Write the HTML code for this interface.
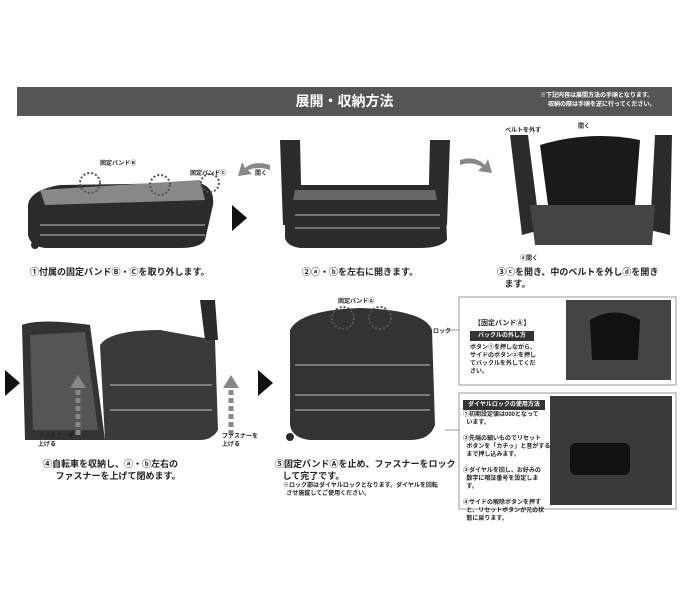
<!DOCTYPE html>
<html><head><meta charset="utf-8"><style>
body{margin:0;width:690px;height:600px;background:#fff;position:relative;overflow:hidden;font-family:"Liberation Sans","Noto Sans CJK JP",sans-serif;color:#222}
.a{position:absolute}
.t{position:absolute;font-size:9px;font-weight:bold;white-space:nowrap;line-height:12px}
.s{position:absolute;font-size:6px;font-weight:bold;white-space:nowrap;line-height:8px}
.tri{position:absolute;width:0;height:0;border-top:13px solid transparent;border-bottom:13px solid transparent;border-left:15px solid #111}
</style></head><body>
<div class="a" style="left:17px;top:87px;width:655px;height:29px;background:#555"></div>
<div class="a" style="left:17px;top:87px;width:655px;height:29px;color:#fff;text-align:center;font-size:14px;font-weight:bold;line-height:29px">展開・収納方法</div>
<div class="s" style="left:540px;top:92px;color:#fff">※下記内容は展開方法の手順となります。</div>
<div class="s" style="left:548px;top:101px;color:#fff">収納の際は手順を逆に行ってください。</div>

<svg class="a" style="left:0;top:0" width="690" height="600">
<g fill="#2b2b2b">
<path d="M28 205 Q30 190 60 185 L200 183 Q215 188 213 205 L205 240 Q200 248 180 248 L45 248 Q30 246 28 235Z"/>
<path d="M40 190 L200 180 L205 200 L45 205Z" fill="#888"/>
<circle cx="35" cy="245" r="4"/>
<path d="M280 140 L300 140 L302 225 L283 225Z"/>
<path d="M430 140 L450 140 L447 225 L428 225Z"/>
<path d="M285 185 L445 185 L447 240 Q440 248 420 248 L300 248 Q287 246 285 238Z"/>
<path d="M295 190 L435 190 L437 200 L293 200Z" fill="#666"/>
<path d="M510 135 L528 135 L540 230 L522 235Z"/>
<path d="M540 145 Q590 130 640 140 L635 205 L548 205Z" fill="#1a1a1a"/>
<path d="M655 135 L672 135 L670 235 L650 230Z"/>
<path d="M530 205 L655 205 L652 245 L535 245Z" fill="#444"/>
<path d="M22 325 Q40 318 90 325 L105 440 L25 440Z" fill="#333"/>
<path d="M30 335 L85 332 L98 430 L33 430Z" fill="#555"/>
<path d="M100 345 Q110 330 160 330 L215 340 L218 430 Q212 440 200 440 L105 440 Z" fill="#3a3a3a"/>
<path d="M200 300 L215 300 L218 340 L205 340Z"/>
<path d="M290 330 Q300 310 360 308 Q425 310 432 330 L435 425 Q430 440 410 440 L310 440 Q292 438 290 425Z" fill="#333"/>
<circle cx="290" cy="437" r="4"/>
<rect x="566" y="300" width="105" height="80" fill="#444"/>
<path d="M590 320 Q615 305 640 320 L638 360 L592 360Z" fill="#111"/>
<rect x="550" y="396" width="122" height="109" fill="#3a3a3a"/>
<rect x="570" y="443" width="60" height="32" rx="6" fill="#111"/>
</g>
<g stroke="#fff" stroke-width="1" fill="none" opacity="0.7">
<path d="M40 225 L205 225 M40 235 L205 235"/>
<path d="M295 215 L440 215 M295 228 L440 228"/>
<path d="M295 365 L430 365 M295 395 L430 395 M295 410 L430 410"/>
<path d="M110 385 L212 385 M110 410 L212 410"/>
</g>
<g stroke="#555" stroke-width="2" stroke-dasharray="2,2" fill="none">
<circle cx="90" cy="183" r="10"/><circle cx="160" cy="185" r="10"/><circle cx="210" cy="183" r="9"/>
<circle cx="343" cy="318" r="11"/><circle cx="380" cy="318" r="11"/>
</g>
<g stroke="#888" stroke-width="5" stroke-dasharray="5,3" fill="none">
<path d="M78 435 L78 385"/><path d="M231 435 L231 385"/>
</g>
<g fill="#888"><path d="M70 388 L86 388 L78 375Z"/><path d="M223 388 L239 388 L231 375Z"/>
<path d="M270 165 Q255 160 245 168 L242 162 L238 176 L252 174 L248 170 Q258 166 270 170Z"/>
<path d="M460 160 Q475 155 485 165 L488 159 L492 173 L478 171 L482 167 Q472 161 460 165Z"/></g>
<rect x="459" y="297" width="217" height="88" fill="none" stroke="#999"/>
<rect x="459" y="393" width="217" height="116" fill="none" stroke="#999"/>
<path d="M445 330 L459 330 M445 430 L459 430" stroke="#999"/>
</svg>
<div class="tri" style="left:232px;top:205px"></div>
<div class="tri" style="left:258px;top:370px"></div>
<div class="tri" style="left:5px;top:370px"></div>

<div class="s" style="left:100px;top:160px">固定バンドⒷ</div>
<div class="s" style="left:190px;top:170px">固定バンドⒸ</div>
<div class="s" style="left:255px;top:170px">開く</div>
<div class="s" style="left:505px;top:127px">ベルトを外す</div>
<div class="s" style="left:578px;top:123px">開く</div>
<div class="s" style="left:520px;top:255px">ⓓ開く</div>
<div class="s" style="left:338px;top:298px">固定バンドⒶ</div>
<div class="s" style="left:433px;top:328px">ロック</div>
<div class="s" style="left:38px;top:433px">ファスナーを<br>上げる</div>
<div class="s" style="left:222px;top:433px">ファスナーを<br>上げる</div>

<div class="t" style="left:30px;top:266px">①付属の固定バンドⒷ・Ⓒを取り外します。</div>
<div class="t" style="left:302px;top:266px">②ⓐ・ⓑを左右に開きます。</div>
<div class="t" style="left:497px;top:266px">③ⓒを開き、中のベルトを外しⓓを開き<br>&nbsp;&nbsp;&nbsp;ます。</div>
<div class="t" style="left:43px;top:458px">④自転車を収納し、ⓐ・ⓑ左右の<br>&nbsp;&nbsp;&nbsp;&nbsp;&nbsp;ファスナーを上げて閉めます。</div>
<div class="t" style="left:275px;top:458px">⑤固定バンドⒶを止め、ファスナーをロック<br>&nbsp;&nbsp;&nbsp;して完了です。</div>
<div class="s" style="left:283px;top:482px">※ロック部はダイヤルロックとなります。ダイヤルを回転<br>&nbsp;&nbsp;させ施錠してご使用ください。</div>

<div class="t" style="left:474px;top:318px;font-size:7px">【固定バンドⒶ】</div>
<div class="s" style="left:470px;top:331px;background:#333;color:#fff;padding:1px 8px">バックルの外し方</div>
<div class="s" style="left:470px;top:344px">ボタン①を押しながら、<br>サイドのボタン②を押し<br>てバックルを外してくだ<br>さい。</div>
<div class="s" style="left:463px;top:400px;background:#333;color:#fff;padding:1px 5px">ダイヤルロックの使用方法</div>
<div class="s" style="left:463px;top:411px">①初期設定値は000となって<br>&nbsp;&nbsp;います。<br><br>②先端の細いものでリセット<br>&nbsp;&nbsp;ボタンを「カチッ」と音がする<br>&nbsp;&nbsp;まで押し込みます。<br><br>③ダイヤルを回し、お好みの<br>&nbsp;&nbsp;数字に暗証番号を設定しま<br>&nbsp;&nbsp;す。<br><br>④サイドの解除ボタンを押す<br>&nbsp;&nbsp;と、リセットボタンが元の状<br>&nbsp;&nbsp;態に戻ります。</div>
</body></html>
